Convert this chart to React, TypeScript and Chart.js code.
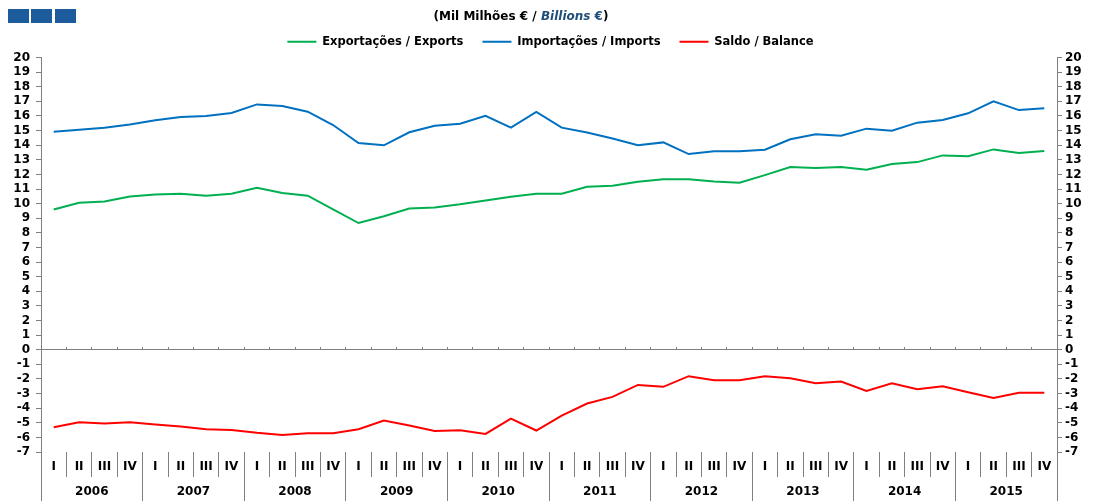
import React, { useEffect, useRef } from "react";
import { Chart, registerables } from "chart.js";

Chart.register(...registerables);

const years = ["2006", "2007", "2008", "2009", "2010", "2011", "2012", "2013", "2014", "2015"];
const quarterNames = ["I", "II", "III", "IV"];
const quarterLabels = years.flatMap(() => quarterNames);

const exportsSeries = [
  9.6, 10.06, 10.15, 10.49, 10.63, 10.68, 10.54, 10.68, 11.09, 10.72,
  10.54, 9.6, 8.67, 9.14, 9.67, 9.74, 9.95, 10.22, 10.47, 10.68,
  10.68, 11.16, 11.23, 11.5, 11.66, 11.66, 11.52, 11.43, 11.95, 12.5,
  12.43, 12.5, 12.32, 12.71, 12.84, 13.3, 13.25, 13.71, 13.46, 13.6,
];
const importsSeries = [
  14.92, 15.06, 15.2, 15.42, 15.7, 15.93, 15.99, 16.2, 16.79, 16.68,
  16.29, 15.38, 14.14, 13.99, 14.88, 15.33, 15.47, 16.01, 15.2, 16.27,
  15.2, 14.86, 14.45, 13.99, 14.19, 13.39, 13.58, 13.58, 13.69, 14.4,
  14.74, 14.65, 15.13, 14.99, 15.54, 15.72, 16.18, 17.0, 16.4, 16.52,
];
const balanceSeries = [
  -5.31, -4.96, -5.05, -4.96, -5.12, -5.26, -5.44, -5.49, -5.69, -5.83,
  -5.72, -5.72, -5.44, -4.85, -5.19, -5.56, -5.51, -5.76, -4.71, -5.53,
  -4.51, -3.68, -3.23, -2.41, -2.54, -1.81, -2.09, -2.09, -1.81, -1.95,
  -2.29, -2.18, -2.82, -2.29, -2.7, -2.5, -2.91, -3.3, -2.95, -2.95,
];

const FONT = "'DejaVu Sans', sans-serif";
const AXIS_GRAY = "#808080";

export default function App() {
  const canvasRef = useRef<HTMLCanvasElement | null>(null);

  useEffect(() => {
    if (!canvasRef.current) return;
    const chart = new Chart(canvasRef.current, {
      type: "line",
      data: {
        labels: quarterLabels,
        datasets: [
          {
            label: "Exportações / Exports",
            data: exportsSeries,
            borderColor: "#00B050",
            backgroundColor: "#00B050",
            borderWidth: 2,
            pointRadius: 0,
            tension: 0,
            xAxisID: "x",
            yAxisID: "y",
          },
          {
            label: "Importações / Imports",
            data: importsSeries,
            borderColor: "#0070C0",
            backgroundColor: "#0070C0",
            borderWidth: 2,
            pointRadius: 0,
            tension: 0,
            xAxisID: "x",
            yAxisID: "y",
          },
          {
            label: "Saldo / Balance",
            data: balanceSeries,
            borderColor: "#FF0000",
            backgroundColor: "#FF0000",
            borderWidth: 2,
            pointRadius: 0,
            tension: 0,
            xAxisID: "x",
            yAxisID: "y",
          },
        ],
      },
      options: {
        animation: false,
        responsive: false,
        maintainAspectRatio: false,
        layout: { padding: { top: 17, left: 0, right: 0, bottom: 0 } },
        plugins: {
          tooltip: { enabled: false },
          title: { display: false },
          legend: {
            display: true,
            position: "top",
            labels: {
              usePointStyle: true,
              pointStyle: "line",
              pointStyleWidth: 29,
              boxHeight: 12,
              padding: 19,
              color: "#000",
              font: { family: FONT, size: 11.5, weight: "bold" },
            },
          },
        },
        scales: {
          x: {
            type: "category",
            axis: "x",
            position: "bottom",
            offset: true,
            weight: 0,
            grid: {
              display: true,
              drawOnChartArea: false,
              offset: true,
              tickLength: 25,
              color: AXIS_GRAY,
              lineWidth: 1,
            },
            border: { display: false },
            ticks: {
              autoSkip: false,
              maxRotation: 0,
              minRotation: 0,
              padding: -17,
              color: "#000",
              font: { family: FONT, size: 12, weight: "bold" },
            },
            afterFit: (s: any) => {
              s.height = 25;
            },
          },
          yr: {
            type: "category",
            axis: "x",
            position: "bottom",
            labels: years,
            offset: true,
            weight: 1,
            grid: {
              display: true,
              drawOnChartArea: false,
              offset: true,
              tickLength: 24,
              color: AXIS_GRAY,
              lineWidth: 1,
            },
            border: { display: false },
            ticks: {
              autoSkip: false,
              maxRotation: 0,
              minRotation: 0,
              padding: -16,
              color: "#000",
              font: { family: FONT, size: 12, weight: "bold" },
            },
            afterFit: (s: any) => {
              s.height = 25;
            },
          },
          x0: {
            type: "category",
            axis: "x",
            position: { y: 0 },
            offset: true,
            grid: {
              display: true,
              drawOnChartArea: false,
              offset: true,
              tickLength: -3,
              color: AXIS_GRAY,
            },
            border: { display: true, color: AXIS_GRAY, width: 1 },
            ticks: { display: false },
          },
          y: {
            type: "linear",
            axis: "y",
            position: "left",
            min: -7,
            max: 20,
            grid: {
              display: true,
              drawOnChartArea: false,
              tickLength: 5,
              color: AXIS_GRAY,
            },
            border: { display: true, color: AXIS_GRAY, width: 1 },
            ticks: {
              stepSize: 1,
              autoSkip: false,
              padding: 6,
              color: "#000",
              font: { family: FONT, size: 12, weight: "bold" },
            },
            afterFit: (s: any) => {
              s.width = 41;
            },
          },
          y2: {
            type: "linear",
            axis: "y",
            position: "right",
            min: -7,
            max: 20,
            grid: {
              display: true,
              drawOnChartArea: false,
              tickLength: 5,
              color: AXIS_GRAY,
            },
            border: { display: true, color: AXIS_GRAY, width: 1 },
            ticks: {
              stepSize: 1,
              autoSkip: false,
              padding: 3,
              color: "#000",
              font: { family: FONT, size: 12, weight: "bold" },
            },
            afterFit: (s: any) => {
              s.width = 44;
            },
          },
        },
      },
    });
    return () => {
      chart.destroy();
    };
  }, []);

  const square = (left: number): React.CSSProperties => ({
    position: "absolute",
    left,
    top: 9,
    width: 21,
    height: 14,
    background: "#1C5C9C",
  });

  return (
    <div style={{ position: "absolute", left: 0, top: 0, width: 1101, height: 502, background: "#fff" }}>
      <canvas ref={canvasRef} width={1101} height={502} style={{ position: "absolute", left: 0, top: 0, width: 1101, height: 502 }} />
      <div style={square(8)} />
      <div style={square(31)} />
      <div style={square(55)} />
      <div
        style={{
          position: "absolute",
          left: 521,
          top: 9,
          transform: "translateX(-50%)",
          whiteSpace: "nowrap",
          fontFamily: FONT,
          fontSize: 12,
          fontWeight: "bold",
          lineHeight: "14px",
          color: "#000",
        }}
      >
        (Mil Milhões € / <span style={{ color: "#1F4E79", fontStyle: "italic" }}>Billions</span>{" "}
        <span style={{ color: "#1F4E79" }}>€</span>)
      </div>
    </div>
  );
}
